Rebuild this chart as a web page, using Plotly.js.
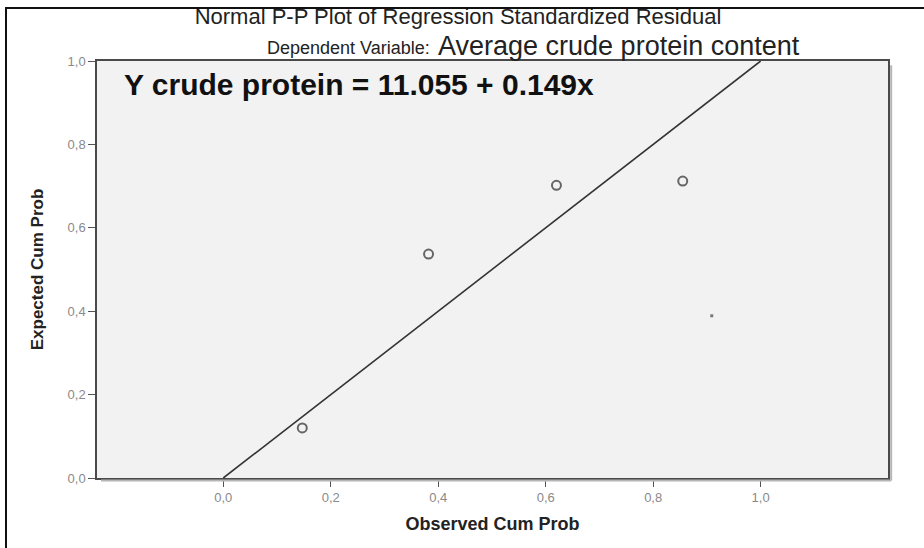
<!DOCTYPE html>
<html>
<head>
<meta charset="utf-8">
<script src="https://cdn.plot.ly/plotly-3.0.1.min.js"></script>
<style>
  html, body { margin: 0; padding: 0; background: #fff; }
  #wrap { position: relative; width: 924px; height: 548px; overflow: hidden; }
  #chart { width: 924px; height: 548px; }
  #frame { position: absolute; left: 5px; top: 7px; right: -5px; bottom: -5px;
           border-top: 2px solid #111; border-left: 2px solid #111; pointer-events: none; }
</style>
</head>
<body>
<div id="wrap">
  <div id="chart"></div>
  <div id="frame"></div>
</div>
<script>
// Observed vs expected cumulative probabilities
const observedCumProb = [0.147, 0.382, 0.620, 0.855];
const expectedCumProb = [0.120, 0.537, 0.702, 0.712];
// stray dot visible in the plot
const strayX = [0.909];
const strayY = [0.389];
// reference diagonal
const diagX = [0, 1];
const diagY = [0, 1];
// tick values
const xTicks = [0, 0.2, 0.4, 0.6, 0.8, 1.0];
const yTicks = [0, 0.2, 0.4, 0.6, 0.8, 1.0];

const FONT = 'Liberation Sans, Arial, sans-serif';

const traces = [
  { x: diagX, y: diagY, type: 'scatter', mode: 'lines',
    line: { color: '#333333', width: 1.6 }, hoverinfo: 'skip', showlegend: false },
  { x: observedCumProb, y: expectedCumProb, type: 'scatter', mode: 'markers',
    marker: { symbol: 'circle-open', size: 9, color: '#666666', line: { width: 2, color: '#666666' } },
    showlegend: false },
  { x: strayX, y: strayY, type: 'scatter', mode: 'markers',
    marker: { symbol: 'square', size: 3, color: '#777777' }, showlegend: false }
];

const axisCommon = {
  showgrid: false, zeroline: false, showline: true, mirror: true,
  linecolor: '#4a4a4a', linewidth: 1.5,
  ticks: 'outside', ticklen: 7, tickwidth: 1, tickcolor: '#555555',
  tickfont: { family: FONT, size: 13, color: '#8a8a8a' },
  tickformat: '.1f', tickmode: 'array'
};

const layout = {
  width: 924, height: 548,
  margin: { l: 97, r: 36, t: 61, b: 70 },
  paper_bgcolor: '#ffffff', plot_bgcolor: '#f2f2f2',
  separators: ', ',
  title: {
    text: 'Normal P-P Plot of Regression Standardized Residual',
    font: { family: FONT, size: 22, color: '#222222' },
    x: 458 / 924, xanchor: 'center', y: 1 - 16 / 548, yanchor: 'middle', yref: 'container'
  },
  xaxis: Object.assign({}, axisCommon, {
    range: [-0.235, 1.237], tickvals: xTicks,
    title: { text: 'Observed Cum Prob', standoff: 13,
      font: { family: FONT, size: 18, color: '#222222', weight: 'bold' } }
  }),
  yaxis: Object.assign({}, axisCommon, {
    range: [0, 1], tickvals: yTicks,
    title: { text: 'Expected Cum Prob', standoff: 20,
      font: { family: FONT, size: 17, color: '#222222', weight: 'bold' } }
  }),
  annotations: [
    { text: 'Dependent Variable:', xref: 'paper', yref: 'paper',
      x: (432 - 97) / 791, y: (478 - 48) / 417, xanchor: 'right', yanchor: 'middle', showarrow: false,
      font: { family: FONT, size: 18, color: '#222222' } },
    { text: 'Average crude protein content', xref: 'paper', yref: 'paper',
      x: (436 - 97) / 791, y: (478 - 46) / 417, xanchor: 'left', yanchor: 'middle', showarrow: false,
      font: { family: FONT, size: 27, color: '#222222' } },
    { text: '<b>Y crude protein = 11.055 + 0.149x</b>', xref: 'paper', yref: 'paper',
      x: (122 - 97) / 791, y: (478 - 84) / 417, xanchor: 'left', yanchor: 'middle', showarrow: false,
      font: { family: FONT, size: 30, color: '#111111' } }
  ],
  shapes: [
    { type: 'line', xref: 'paper', yref: 'paper', x0: 1.004, x1: 1.004, y0: -0.006, y1: 0.99,
      line: { color: '#b5b5b5', width: 2 } },
    { type: 'line', xref: 'paper', yref: 'paper', x0: 0.005, x1: 1.004, y0: -0.006, y1: -0.006,
      line: { color: '#b5b5b5', width: 2 } }
  ]
};

Plotly.newPlot('chart', traces, layout, { displayModeBar: false, responsive: false });
</script>
</body>
</html>
